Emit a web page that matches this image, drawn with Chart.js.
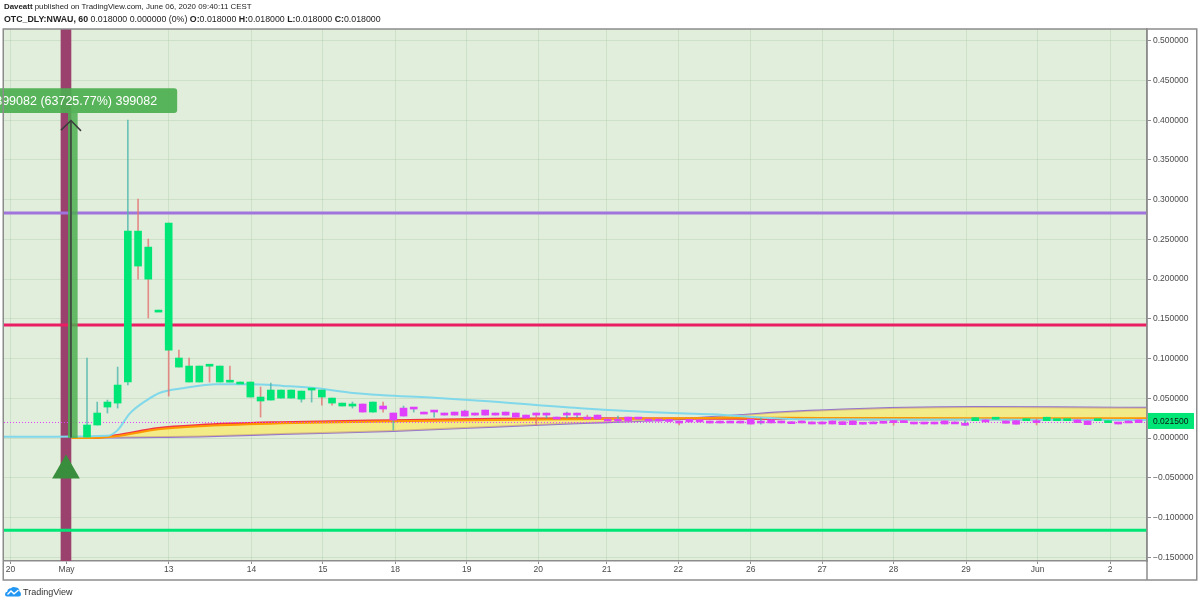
<!DOCTYPE html>
<html>
<head>
<meta charset="utf-8">
<script src="https://cdn.jsdelivr.net/npm/chart.js@4.4.1/dist/chart.umd.min.js"></script>
<style>
  html, body { margin: 0; padding: 0; background: #fff; }
  #wrap { position: relative; width: 1200px; height: 605px; overflow: hidden; }
  #chart { position: absolute; left: 0; top: 0; }
  #hdr { position: absolute; left: 4px; top: 1px; font-family: "Liberation Sans", Arial, sans-serif;
         color: #222; line-height: 12px; white-space: nowrap; }
  #hdr .l1 { font-size: 7.9px; }
  #hdr .l2 { font-size: 8.8px; }
  #ftr { position: absolute; left: 5px; top: 586px; font: 9px "Liberation Sans", Arial, sans-serif;
         color: #333; white-space: nowrap; display: flex; align-items: center; gap: 2px; }
</style>
</head>
<body>
<div id="wrap">
  <canvas id="chart" width="1200" height="605"></canvas>
  <div id="hdr">
    <div class="l1"><b>Daveatt</b> published on TradingView.com, June 06, 2020 09:40:11 CEST</div>
    <div class="l2"><b>OTC_DLY:NWAU, 60</b> 0.018000 0.000000 (0%) <b>O:</b>0.018000 <b>H:</b>0.018000 <b>L:</b>0.018000 <b>C:</b>0.018000</div>
  </div>
  <div id="ftr">
    <svg width="16" height="11" viewBox="0 0 16 11"><path d="M2 10.5Q0 10.5 0 8.3Q0 6.2 2.2 5.8Q2.6 2.2 6 2.3Q8 0 11 1.5Q14.2 1.6 14.4 5.2Q16 6 16 8.2Q16 10.5 13.8 10.5Z" fill="#2196f3"/><polyline points="2.5,8.5 6,5 9,7.8 13.5,4" stroke="#fff" stroke-width="1.4" fill="none"/></svg>
    <span>TradingView</span>
  </div>
</div>

<script>
// ─── Data ─────────────────────────────────────────────────────────────────────

// x axis: candle index (one hourly candle per step)
const tickIdx    = [-7.5, -2.0, 8.0, 16.1, 23.1, 30.2, 37.2, 44.2, 50.9, 57.9, 65.0, 72.0, 79.0, 86.1, 93.1, 100.2];
const tickLabels = ["20", "May", "13", "14", "15", "18", "19", "20", "21", "22", "26", "27", "28", "29", "Jun", "2"];
const yTicks     = [-0.15, -0.1, -0.05, 0, 0.05, 0.1, 0.15, 0.2, 0.25, 0.3, 0.35, 0.4, 0.45, 0.5];

const opens = [
  0.0013, 0.0164, 0.0390, 0.0440, 0.0705, 0.2604, 0.2403, 0.1610, 0.2705, 0.1007,
  0.0906, 0.0906, 0.0906, 0.0906, 0.0705, 0.0705, 0.0705, 0.0516, 0.0478, 0.0503,
  0.0503, 0.0490, 0.0604, 0.0604, 0.0503, 0.0440, 0.0403, 0.0428, 0.0327, 0.0403,
  0.0226, 0.0277, 0.0365, 0.0327, 0.0327, 0.0289, 0.0289, 0.0277, 0.0289, 0.0289,
  0.0289, 0.0289, 0.0315, 0.0289, 0.0315, 0.0289, 0.0264, 0.0289, 0.0289, 0.0264,
  0.0289, 0.0239, 0.0239, 0.0264, 0.0239, 0.0239, 0.0239, 0.0234, 0.0214, 0.0234,
  0.0228, 0.0214, 0.0214, 0.0214, 0.0214, 0.0239, 0.0214, 0.0228, 0.0215, 0.0206,
  0.0215, 0.0203, 0.0203, 0.0215, 0.0206, 0.0215, 0.0194, 0.0203, 0.0206, 0.0219,
  0.0215, 0.0199, 0.0194, 0.0199, 0.0215, 0.0203, 0.0186, 0.0219, 0.0228, 0.0237,
  0.0215, 0.0219, 0.0219, 0.0215, 0.0219, 0.0219, 0.0219, 0.0228, 0.0215, 0.0219,
  0.0219, 0.0199, 0.0215, 0.0228,
];
const highs = [
  0.1007, 0.0453, 0.0478, 0.0893, 0.4001, 0.3007, 0.2504, 0.1610, 0.2705, 0.1107,
  0.1007, 0.0906, 0.0906, 0.0906, 0.0906, 0.0705, 0.0705, 0.0642, 0.0692, 0.0604,
  0.0604, 0.0591, 0.0604, 0.0604, 0.0503, 0.0440, 0.0453, 0.0428, 0.0453, 0.0453,
  0.0315, 0.0403, 0.0377, 0.0327, 0.0340, 0.0315, 0.0327, 0.0352, 0.0315, 0.0352,
  0.0315, 0.0327, 0.0315, 0.0289, 0.0315, 0.0315, 0.0264, 0.0327, 0.0315, 0.0289,
  0.0289, 0.0239, 0.0277, 0.0264, 0.0252, 0.0239, 0.0239, 0.0234, 0.0214, 0.0234,
  0.0228, 0.0214, 0.0214, 0.0214, 0.0214, 0.0239, 0.0252, 0.0228, 0.0215, 0.0206,
  0.0215, 0.0203, 0.0203, 0.0215, 0.0206, 0.0215, 0.0194, 0.0203, 0.0206, 0.0219,
  0.0215, 0.0199, 0.0194, 0.0199, 0.0215, 0.0203, 0.0219, 0.0257, 0.0228, 0.0257,
  0.0215, 0.0219, 0.0237, 0.0240, 0.0262, 0.0237, 0.0237, 0.0228, 0.0215, 0.0237,
  0.0219, 0.0199, 0.0215, 0.0228,
];
const lows = [
  0.0013, 0.0164, 0.0315, 0.0377, 0.0667, 0.2000, 0.1510, 0.1610, 0.0528, 0.0893,
  0.0705, 0.0705, 0.0705, 0.0705, 0.0705, 0.0705, 0.0516, 0.0264, 0.0478, 0.0503,
  0.0503, 0.0453, 0.0453, 0.0415, 0.0415, 0.0403, 0.0377, 0.0327, 0.0327, 0.0327,
  0.0101, 0.0277, 0.0327, 0.0327, 0.0264, 0.0289, 0.0289, 0.0277, 0.0289, 0.0289,
  0.0289, 0.0289, 0.0264, 0.0252, 0.0164, 0.0252, 0.0264, 0.0252, 0.0264, 0.0239,
  0.0239, 0.0239, 0.0201, 0.0214, 0.0239, 0.0214, 0.0214, 0.0208, 0.0165, 0.0203,
  0.0203, 0.0189, 0.0189, 0.0214, 0.0189, 0.0176, 0.0176, 0.0190, 0.0190, 0.0206,
  0.0190, 0.0177, 0.0177, 0.0177, 0.0169, 0.0169, 0.0174, 0.0203, 0.0186, 0.0161,
  0.0194, 0.0177, 0.0177, 0.0177, 0.0177, 0.0203, 0.0156, 0.0219, 0.0203, 0.0237,
  0.0186, 0.0174, 0.0219, 0.0165, 0.0219, 0.0219, 0.0219, 0.0194, 0.0169, 0.0219,
  0.0219, 0.0177, 0.0215, 0.0194,
];
const closes = [
  0.0164, 0.0315, 0.0453, 0.0667, 0.2604, 0.2164, 0.2000, 0.1610, 0.1107, 0.0893,
  0.0705, 0.0705, 0.0904, 0.0705, 0.0703, 0.0705, 0.0516, 0.0466, 0.0604, 0.0604,
  0.0604, 0.0591, 0.0606, 0.0516, 0.0440, 0.0403, 0.0405, 0.0327, 0.0453, 0.0365,
  0.0315, 0.0377, 0.0367, 0.0327, 0.0329, 0.0315, 0.0327, 0.0340, 0.0315, 0.0352,
  0.0315, 0.0327, 0.0264, 0.0252, 0.0289, 0.0291, 0.0264, 0.0291, 0.0291, 0.0239,
  0.0239, 0.0239, 0.0239, 0.0214, 0.0241, 0.0214, 0.0214, 0.0208, 0.0189, 0.0203,
  0.0203, 0.0189, 0.0189, 0.0214, 0.0189, 0.0176, 0.0214, 0.0190, 0.0190, 0.0206,
  0.0190, 0.0177, 0.0177, 0.0177, 0.0169, 0.0169, 0.0174, 0.0203, 0.0186, 0.0194,
  0.0194, 0.0177, 0.0177, 0.0177, 0.0177, 0.0203, 0.0186, 0.0257, 0.0203, 0.0257,
  0.0186, 0.0174, 0.0237, 0.0194, 0.0262, 0.0237, 0.0237, 0.0194, 0.0169, 0.0237,
  0.0219, 0.0177, 0.0215, 0.0194,
];
// 1 = bullish bar colouring (green), 0 = bearish (magenta)
const regime = [
  1, 1, 1, 1, 1, 1, 1, 1, 1, 1,
  1, 1, 1, 1, 1, 1, 1, 1, 1, 1,
  1, 1, 1, 1, 1, 1, 1, 0, 1, 0,
  0, 0, 0, 0, 0, 0, 0, 0, 0, 0,
  0, 0, 0, 0, 0, 0, 0, 0, 0, 0,
  0, 0, 0, 0, 0, 0, 0, 0, 0, 0,
  0, 0, 0, 0, 0, 0, 0, 0, 0, 0,
  0, 0, 0, 0, 0, 0, 0, 0, 0, 0,
  0, 0, 0, 0, 0, 0, 0, 1, 0, 1,
  0, 0, 1, 0, 1, 1, 1, 0, 0, 1,
  1, 0, 0, 0,
];

// moving average (cyan)
const maIdx  = [-8.2, 2.0, 3.0, 4.2, 5.9, 7.15, 9.4, 12.7, 16, 19.2, 22.5, 25.8, 29, 33.6, 38.5, 48.3, 58, 61.3, 66, 70, 85, 103.8];
const maVals = [0.0015, 0.003, 0.010, 0.031, 0.048, 0.057, 0.0627, 0.0677, 0.0677, 0.0656, 0.0627, 0.0571, 0.054, 0.051, 0.047, 0.0375, 0.0312, 0.030, 0.026, 0.0236, 0.0232, 0.0228];

// cloud ribbon (slow purple / fast red / mid orange)
const bandIdx  = [-1.5, 1, 3, 7, 11, 19, 30, 40, 48, 58, 63, 68, 74, 80, 87, 95, 103.8];
const slowVals = [0.0, 0.0004, 0.0008, 0.0013, 0.002, 0.005, 0.009, 0.0143, 0.0186, 0.0237, 0.028, 0.0325, 0.036, 0.0382, 0.039, 0.0388, 0.038];
const fastVals = [0.0, 0.0005, 0.004, 0.0127, 0.0165, 0.020, 0.0225, 0.0242, 0.0248, 0.0245, 0.0242, 0.024, 0.0238, 0.0237, 0.0236, 0.0236, 0.0235];
const midVals  = [0.0, 0.0003, 0.0027, 0.0110, 0.0150, 0.0185, 0.0210, 0.0228, 0.0236, 0.0250, 0.0254, 0.0254, 0.0252, 0.0251, 0.0250, 0.0250, 0.0249];

// horizontal levels
const levels      = [0.2832, 0.1423, -0.1160];
const levelColors = ["#a073dd", "#e91e63", "#00e676"];
const alertLevel  = 0.0196;
const lastPrice   = 0.0215;

// price range tool + signal marker
const signalIdx   = -2.06;
const signalVal   = -0.0409;
const rangeIdx    = -1.57;
const rangeBarIdx = -1.39;
const rangeFrom   = 0.0006;
const rangeTo     = 0.3995;
const rangeTop    = 0.4089;
const rangeLabel  = "0.399082 (63725.77%) 399082";
const labelBox    = [0.4089, 0.4403];

// ─── Chart ────────────────────────────────────────────────────────────────────

const X_MIN = -8.13, X_MAX = 103.82;
const Y_MIN = -0.1547, Y_MAX = 0.5147;
const FONT = "Liberation Sans, Arial, sans-serif";
const PLOT_BG = "#e1eedb";
const FRAME = "#8c8c8c";

const pts = (xs, ys) => xs.map((x, i) => ({ x, y: ys[i] }));
const span = v => [{ x: X_MIN, y: v }, { x: X_MAX, y: v }];
const fmtPrice = v => (v < 0 ? "\u2212" : "") + Math.abs(v).toFixed(6);

const tvPlugin = {
  id: "tv",
  beforeDraw(chart) {
    const { ctx, chartArea: a } = chart;
    ctx.save();
    ctx.fillStyle = "#fff";
    ctx.fillRect(0, 0, chart.width, chart.height);
    ctx.fillStyle = PLOT_BG;
    ctx.fillRect(a.left, a.top, a.right - a.left, a.bottom - a.top);
    ctx.restore();
  },
  afterDatasetsDraw(chart) {
    // price range label
    const { ctx, scales: { x, y } } = chart;
    const cx = x.getPixelForValue(rangeIdx);
    const top = y.getPixelForValue(labelBox[1]);
    const bot = y.getPixelForValue(labelBox[0]);
    ctx.save();
    ctx.font = `12.5px ${FONT}`;
    const half = ctx.measureText(rangeLabel).width / 2 + 20;
    ctx.fillStyle = "rgba(76,175,80,0.92)";
    ctx.beginPath();
    ctx.roundRect(cx - half, top, half * 2, bot - top, 3);
    ctx.fill();
    ctx.fillStyle = "#fff";
    ctx.textAlign = "center";
    ctx.textBaseline = "middle";
    ctx.fillText(rangeLabel, cx, (top + bot) / 2 + 0.5);
    ctx.restore();
  },
  afterDraw(chart) {
    const { ctx, chartArea: a, scales: { y } } = chart;
    ctx.save();
    // frame
    ctx.strokeStyle = FRAME;
    ctx.lineWidth = 1.5;
    ctx.strokeRect(3.25, 29, 1193.5, 551);
    ctx.beginPath();
    ctx.moveTo(a.right, 29);
    ctx.lineTo(a.right, 580);
    ctx.stroke();
    // last price tag
    const py = y.getPixelForValue(lastPrice);
    ctx.fillStyle = "#00e676";
    ctx.fillRect(a.right + 1, py - 8, 46, 16);
    ctx.fillStyle = "#111";
    ctx.font = `8.5px ${FONT}`;
    ctx.textBaseline = "middle";
    ctx.fillText(fmtPrice(lastPrice), a.right + 6, py + 0.5);
    ctx.restore();
  },
};

const upWick = "rgba(77,182,172,0.8)";
const downWick = "rgba(229,115,115,0.8)";

new Chart(document.getElementById("chart"), {
  type: "bar",
  data: {
    datasets: [
      {
        type: "bar",
        data: [{ x: signalIdx, y: [Y_MIN, Y_MAX] }],
        backgroundColor: "#9b416e",
        barThickness: 10,
        grouped: false,
        order: 20,
      },
      ...levels.map((v, k) => ({
        type: "line",
        data: span(v),
        borderColor: levelColors[k],
        borderWidth: 3,
        pointRadius: 0,
        order: 15,
      })),
      {
        type: "line",
        data: pts(bandIdx, slowVals),
        borderColor: "#9575cd",
        borderWidth: 2,
        pointRadius: 0,
        cubicInterpolationMode: "monotone",
        order: 14,
      },
      {
        type: "line",
        data: pts(bandIdx, fastVals),
        borderColor: "#f23645",
        borderWidth: 2,
        pointRadius: 0,
        cubicInterpolationMode: "monotone",
        fill: "-1",
        backgroundColor: "rgba(255,234,80,0.6)",
        order: 13,
      },
      {
        type: "line",
        data: pts(bandIdx, midVals),
        borderColor: "#ff9800",
        borderWidth: 2,
        pointRadius: 0,
        cubicInterpolationMode: "monotone",
        order: 12,
      },
      {
        type: "line",
        data: pts(maIdx, maVals),
        borderColor: "#80d8ea",
        borderWidth: 2,
        pointRadius: 0,
        cubicInterpolationMode: "monotone",
        order: 11,
      },
      {
        type: "line",
        data: span(alertLevel),
        borderColor: "#e040fb",
        borderWidth: 1,
        borderDash: [1, 2],
        pointRadius: 0,
        order: 10,
      },
      {
        type: "bar",
        data: closes.map((c, i) => ({ x: i, y: [lows[i], highs[i]] })),
        backgroundColor: closes.map((c, i) => (c >= opens[i] ? upWick : downWick)),
        barThickness: 1,
        grouped: false,
        order: 5,
      },
      {
        type: "bar",
        data: closes.map((c, i) => ({ x: i, y: [opens[i], c] })),
        backgroundColor: regime.map(r => (r ? "#00e676" : "#e040fb")),
        barThickness: 7,
        minBarLength: 2,
        grouped: false,
        order: 4,
      },
      {
        type: "bar",
        data: [{ x: rangeBarIdx, y: [rangeFrom, rangeTop] }],
        backgroundColor: "rgba(76,175,80,0.85)",
        barThickness: 9,
        grouped: false,
        order: 3,
      },
      {
        type: "line",
        data: [{ x: rangeIdx, y: rangeFrom }, { x: rangeIdx, y: rangeTo }],
        borderColor: "#3c3c3c",
        borderWidth: 1.5,
        pointRadius: 0,
        order: 2,
      },
      {
        type: "line",
        data: [{ x: rangeIdx - 0.98, y: rangeTo - 0.012 }, { x: rangeIdx, y: rangeTo }, { x: rangeIdx + 0.98, y: rangeTo - 0.013 }],
        borderColor: "#3c3c3c",
        borderWidth: 1.5,
        pointRadius: 0,
        order: 2,
      },
      {
        type: "line",
        data: [{ x: signalIdx, y: signalVal }],
        showLine: false,
        pointStyle: "triangle",
        pointRadius: 16,
        pointBackgroundColor: "#388e3c",
        pointBorderWidth: 0,
        order: 1,
      },
    ],
  },
  options: {
    responsive: false,
    animation: false,
    events: [],
    layout: { autoPadding: false, padding: { left: 4, top: 29, right: 4, bottom: 25 } },
    plugins: { legend: { display: false }, tooltip: { enabled: false } },
    scales: {
      x: {
        type: "linear",
        min: X_MIN,
        max: X_MAX,
        offset: false,
        afterBuildTicks: s => { s.ticks = tickIdx.map(v => ({ value: v })); },
        afterFit: s => { s.height = 19; s.paddingLeft = 0; s.paddingRight = 0; },
        ticks: {
          autoSkip: false,
          maxRotation: 0,
          padding: 1,
          color: "#4a4a4a",
          font: { family: FONT, size: 8.5 },
          callback: (v, i) => tickLabels[i],
        },
        grid: { offset: false, color: "rgba(150,195,150,0.28)", tickColor: FRAME, tickLength: 3 },
        border: { color: FRAME, width: 1.5 },
      },
      y: {
        position: "right",
        min: Y_MIN,
        max: Y_MAX,
        beginAtZero: false,
        afterBuildTicks: s => { s.ticks = yTicks.map(v => ({ value: v })); },
        afterFit: s => { s.width = 49; s.paddingTop = 0; s.paddingBottom = 0; },
        ticks: {
          padding: 2,
          color: "#4a4a4a",
          font: { family: FONT, size: 8.5 },
          callback: v => fmtPrice(v),
        },
        grid: { color: "rgba(150,195,150,0.28)", tickColor: FRAME, tickLength: 4 },
        border: { color: FRAME, width: 1.5 },
      },
    },
  },
  plugins: [tvPlugin],
});
</script>
</body>
</html>
